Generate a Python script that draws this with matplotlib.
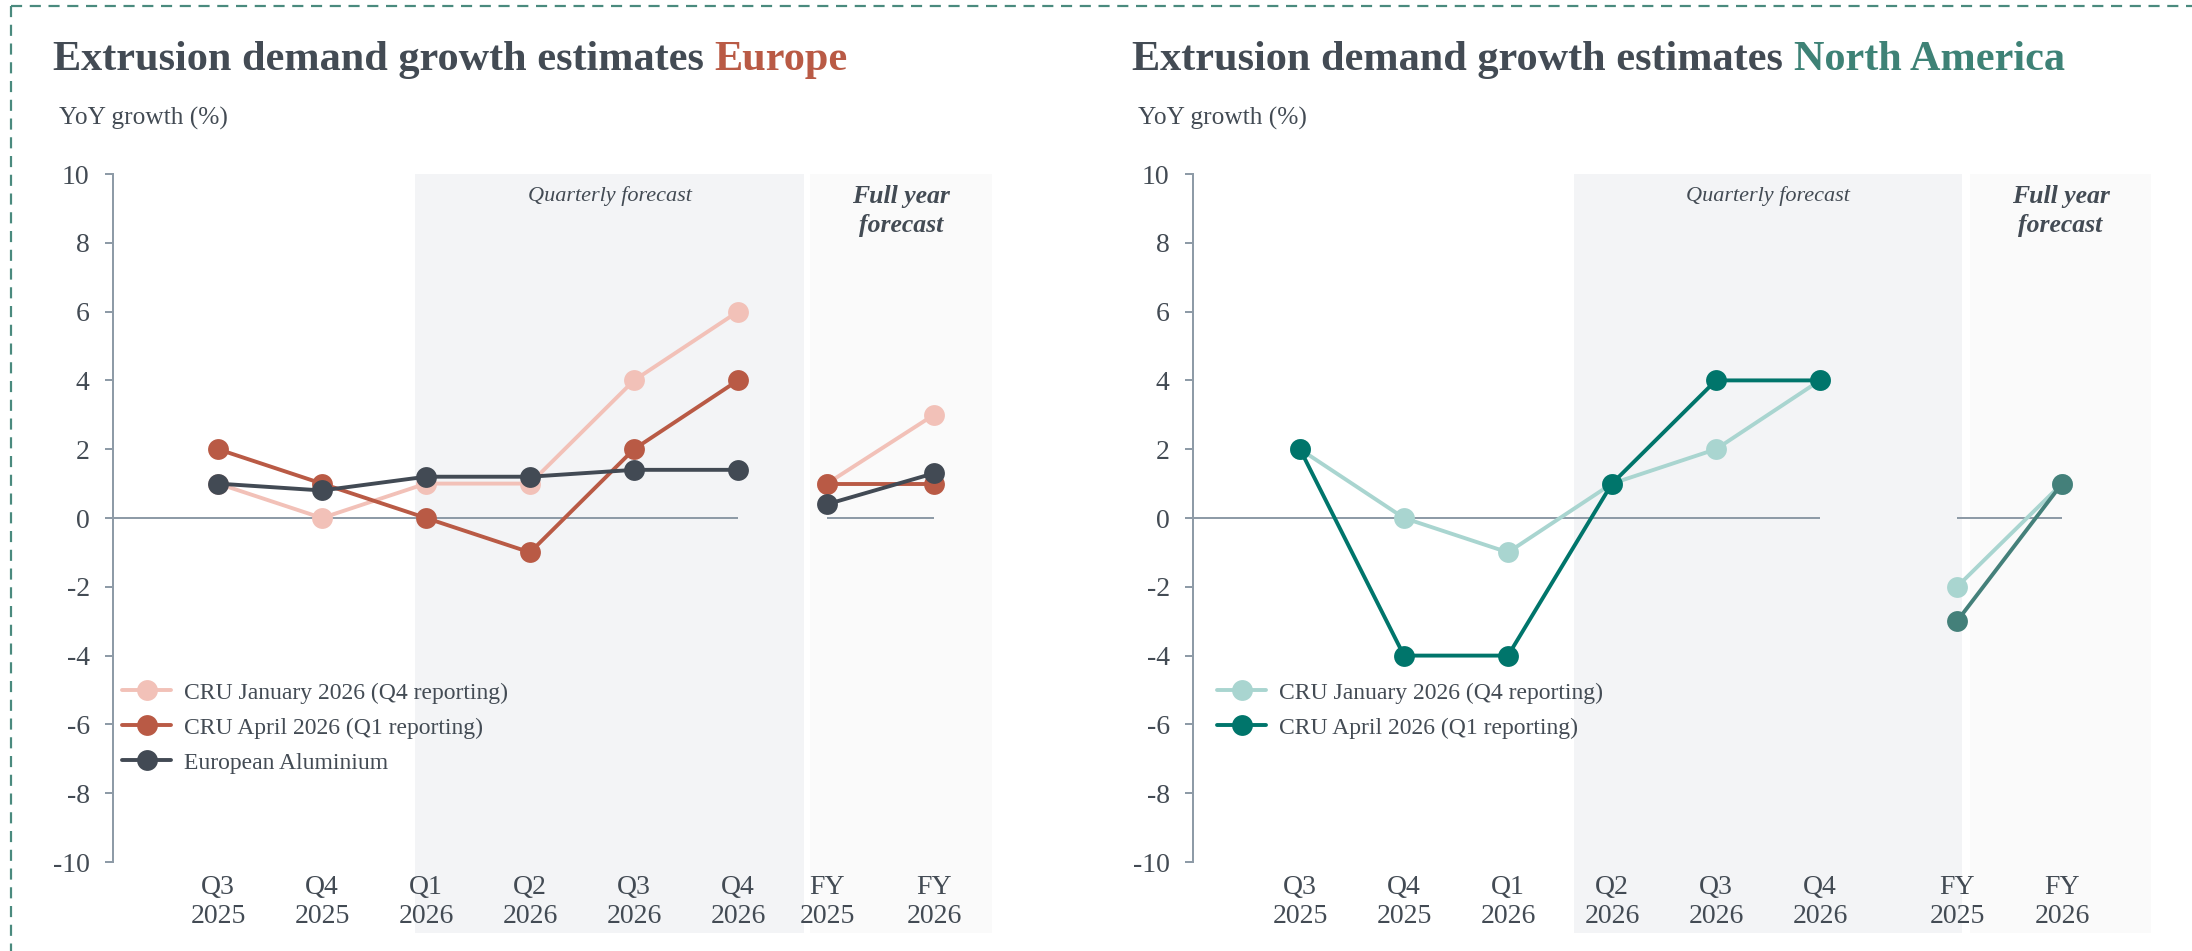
import matplotlib
matplotlib.use("Agg")
import matplotlib.pyplot as plt
from matplotlib.lines import Line2D
import numpy as np

plt.rcParams['font.family'] = ['Liberation Serif', 'DejaVu Serif']
plt.rcParams['axes.unicode_minus'] = False
plt.rcParams['lines.scale_dashes'] = False

# ---------------- data ----------------
quarters = ['Q3\n2025', 'Q4\n2025', 'Q1\n2026', 'Q2\n2026', 'Q3\n2026', 'Q4\n2026']
full_years = ['FY\n2025', 'FY\n2026']
y_ticks = list(range(-10, 11, 2))

legend_labels_eu = ['CRU January 2026 (Q4 reporting)', 'CRU April 2026 (Q1 reporting)', 'European Aluminium']
legend_labels_na = ['CRU January 2026 (Q4 reporting)', 'CRU April 2026 (Q1 reporting)']

eu_jan_q = [1, 0, 1, 1, 4, 6]
eu_apr_q = [2, 1, 0, -1, 2, 4]
eu_ea_q = [1, 0.8, 1.2, 1.2, 1.4, 1.4]
eu_jan_fy = [1, 3]
eu_apr_fy = [1, 1]
eu_ea_fy = [0.4, 1.3]

na_jan_q = [2, 0, -1, 1, 2, 4]
na_apr_q = [2, -4, -4, 1, 4, 4]
na_jan_fy = [-2, 1]
na_apr_fy = [-3, 1]

# ---------------- style ----------------
TEXT = '#434b54'
AXIS = '#8e9ba7'
SHADE_Q = '#f3f4f6'
SHADE_FY = '#fafafa'
EU_JAN = '#f2c1b8'
EU_APR = '#b95a45'
EU_EA = '#424a54'
NA_JAN = '#a9d5d0'
NA_APR = '#00756b'
NA_APR_FY = '#44807a'
BORDER = '#4a8a7e'

W, H = 2192, 951
fig = plt.figure(figsize=(W / 100, H / 100), dpi=100)
fig.patch.set_facecolor('white')


def fx(px):
    return px / W


def fy(py):
    return 1 - py / H


PX = 0.72  # points per pixel at dpi 100

# dashed frame (page decoration)
fig.add_artist(Line2D([fx(11), fx(W)], [fy(6), fy(6)], transform=fig.transFigure,
                      color=BORDER, lw=2.2 * PX, dashes=(8.0, 5.5)))
fig.add_artist(Line2D([fx(11), fx(11)], [fy(6), fy(H)], transform=fig.transFigure,
                      color=BORDER, lw=2.2 * PX, dashes=(8.0, 5.5)))

AX_TOP, AX_BOT, SHADE_BOT = 174, 862, 933
STEP = 104.0

panels = [
    dict(left=113, right=992, x0=218, fy_x0=827, fy_x1=934,
         q_shade=(415, 804), fy_shade=(810, 992),
         title_x=53, title_hl='Europe', hl_color=EU_APR,
         leg_x=122,
         series=[(eu_jan_q, eu_jan_fy, EU_JAN, EU_JAN, legend_labels_eu[0]),
                 (eu_apr_q, eu_apr_fy, EU_APR, EU_APR, legend_labels_eu[1]),
                 (eu_ea_q, eu_ea_fy, EU_EA, EU_EA, legend_labels_eu[2])]),
    dict(left=1193, right=2151, x0=1300, fy_x0=1957, fy_x1=2062,
         q_shade=(1574, 1962), fy_shade=(1970, 2151),
         title_x=1132, title_hl='North America', hl_color='#3e8276',
         leg_x=1217,
         series=[(na_jan_q, na_jan_fy, NA_JAN, NA_JAN, legend_labels_na[0]),
                 (na_apr_q, na_apr_fy, NA_APR, NA_APR_FY, legend_labels_na[1])]),
]

for p in panels:
    ax = fig.add_axes([fx(p['left']), fy(AX_BOT), (p['right'] - p['left']) / W, (AX_BOT - AX_TOP) / H])
    ax.patch.set_alpha(0)

    def to_x(px, p=p):
        return (px - p['x0']) / STEP

    xl = (to_x(p['left']), to_x(p['right']))
    ax.set_xlim(*xl)
    ax.set_ylim(-10, 10)

    q_x = np.arange(len(quarters), dtype=float)
    fy_start = to_x(p['fy_x0'])
    fy_step = to_x(p['fy_x1']) - fy_start
    fy_xs = fy_start + np.arange(len(full_years)) * fy_step

    shade_ymin = -(SHADE_BOT - AX_BOT) / (AX_BOT - AX_TOP)
    for (a, b), col in ((p['q_shade'], SHADE_Q), (p['fy_shade'], SHADE_FY)):
        ax.axvspan(to_x(a), to_x(b), ymin=shade_ymin, ymax=1, color=col, lw=0,
                   zorder=0, clip_on=False)

    # text in shaded zones
    qc = (to_x(p['q_shade'][0]) + to_x(p['q_shade'][1])) / 2
    fc = (to_x(p['fy_shade'][0]) + to_x(p['fy_shade'][1])) / 2
    ax.text(qc, 1 - (196 - AX_TOP) / (AX_BOT - AX_TOP), 'Quarterly forecast',
            transform=ax.get_xaxis_transform(), ha='center', va='center',
            fontsize=16, style='italic', color=TEXT)
    ax.text(fc, 1 - (211 - AX_TOP) / (AX_BOT - AX_TOP), 'Full year\nforecast',
            transform=ax.get_xaxis_transform(), ha='center', va='center',
            fontsize=18.5, style='italic', fontweight='bold', color=TEXT,
            linespacing=1.31)

    # zero reference lines
    ax.plot([xl[0], q_x[-1]], [0, 0], color=AXIS, lw=2 * PX, zorder=1, solid_capstyle='butt')
    ax.plot([fy_xs[0], fy_xs[-1]], [0, 0], color=AXIS, lw=2 * PX, zorder=1, solid_capstyle='butt')

    handles = []
    for i, (qv, fv, col, colfy, lab) in enumerate(p['series']):
        h, = ax.plot(q_x, qv, color=col, lw=2.8, marker='o', ms=15, mew=0,
                     zorder=3 + i, label=lab, solid_capstyle='round')
        ax.plot(fy_xs, fv, color=colfy, lw=2.8, marker='o', ms=15, mew=0,
                zorder=3 + i, solid_capstyle='round')
        handles.append(h)

    for s in ('top', 'right', 'bottom'):
        ax.spines[s].set_visible(False)
    ax.spines['left'].set_color(AXIS)
    ax.spines['left'].set_linewidth(2 * PX)

    ax.set_yticks(y_ticks)
    ax.set_yticklabels([str(v) for v in y_ticks])
    ax.tick_params(axis='y', length=8 * PX, width=2 * PX, color=AXIS, pad=11,
                   labelsize=20, labelcolor=TEXT)
    ax.set_xticks(list(q_x) + list(fy_xs))
    ax.set_xticklabels(quarters + full_years, linespacing=1.19)
    ax.tick_params(axis='x', length=0, pad=9.6, labelsize=20, labelcolor=TEXT)

    ax.legend(handles=handles, loc='upper left',
              bbox_to_anchor=(fx(p['leg_x']), fy(682)), bbox_transform=fig.transFigure,
              frameon=False, fontsize=17, handlelength=2.08, handletextpad=0.55,
              labelspacing=0.57, borderpad=0, borderaxespad=0, labelcolor=TEXT)

    # titles
    t = fig.text(fx(p['title_x']), fy(70), 'Extrusion demand growth estimates ',
                 fontsize=30.4, fontweight='bold', color=TEXT, va='baseline', ha='left')
    ax.annotate(p['title_hl'], xy=(1, 0), xycoords=t, va='bottom', ha='left',
                fontsize=30.4, fontweight='bold', color=p['hl_color'], annotation_clip=False)
    fig.text(fx(p['title_x'] + 6), fy(125), 'YoY growth (%)', fontsize=18.3, color=TEXT,
             va='baseline', ha='left')

fig.savefig('out.png', dpi=100, facecolor='white')
